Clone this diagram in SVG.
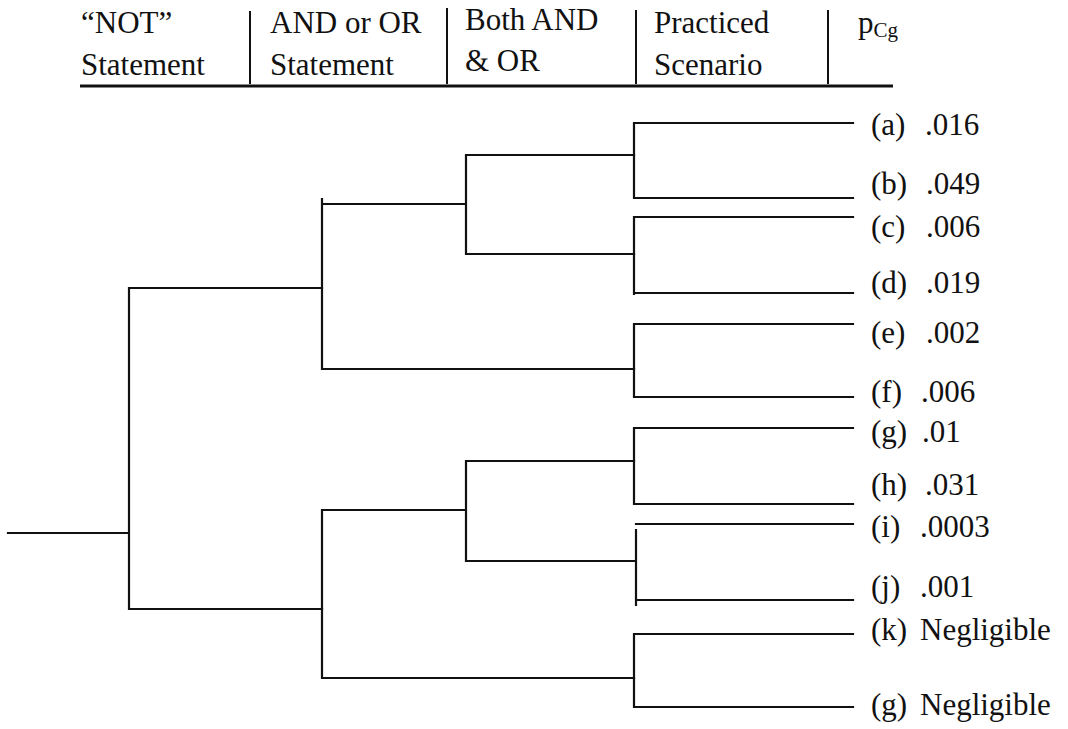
<svg xmlns="http://www.w3.org/2000/svg" width="1068" height="729" viewBox="0 0 1068 729" font-family="'Liberation Serif', 'Times New Roman', serif">
<style>
.h{font-size:31px}
.l{font-size:31px}
.sub{font-size:21px}
.c{stroke:#111;stroke-width:2.2;fill:none;stroke-linecap:square}
.sep{stroke:#111;stroke-width:2;fill:none}
</style>
<rect width="1068" height="729" fill="#fff"/>
<g id="header" font-family="Liberation Serif, serif" fill="#111">
<line x1="80" y1="86" x2="893" y2="86" stroke="#111" stroke-width="3.2"/>
<line class="sep" x1="250" y1="11" x2="250" y2="84"/>
<line class="sep" x1="447" y1="8" x2="447" y2="84"/>
<line class="sep" x1="636" y1="10" x2="636" y2="84"/>
<line class="sep" x1="828" y1="10" x2="828" y2="84"/>
<text class="h" x="81" y="33">“NOT”</text>
<text class="h" x="81" y="75">Statement</text>
<text class="h" x="270" y="33">AND or OR</text>
<text class="h" x="270" y="75">Statement</text>
<text class="h" x="465" y="30">Both AND</text>
<text class="h" x="465" y="71">&amp; OR</text>
<text class="h" x="654" y="33">Practiced</text>
<text class="h" x="654" y="75">Scenario</text>
<text class="h" x="858" y="33">p<tspan class="sub" dy="4">Cg</tspan></text>
</g>
<g id="connectors">
<path class="c" d="M8 533H129M129 288V609M129 288H322M129 609H322"/>
<path class="c" d="M322 199V369M322 204H466M466 155V254M466 155H634M466 254H634M322 369H634"/>
<path class="c" d="M634 123V198M634 123H853M634 198H853"/>
<path class="c" d="M634 217V294M634 217H853M634 293H853"/>
<path class="c" d="M634 324V397M634 324H853M634 397H853"/>
<path class="c" d="M322 510V678M322 510H466M466 461V561M466 461H634M466 561H634M322 678H634"/>
<path class="c" d="M634 428V504M634 428H853M634 504H853"/>
<path class="c" d="M636 530V605M636 524H853M636 600H853"/>
<path class="c" d="M634 634V707M634 634H853M634 707H853"/>
</g>
<g id="leaves" font-family="Liberation Serif, serif" fill="#111">
<g id="leaf-a"><text class="l" x="871" y="135">(a)</text><text class="l" x="925" y="135">.016</text></g>
<g id="leaf-b"><text class="l" x="871" y="194">(b)</text><text class="l" x="926" y="194">.049</text></g>
<g id="leaf-c"><text class="l" x="871" y="237">(c)</text><text class="l" x="926" y="237">.006</text></g>
<g id="leaf-d"><text class="l" x="871" y="293">(d)</text><text class="l" x="926" y="293">.019</text></g>
<g id="leaf-e"><text class="l" x="871" y="343">(e)</text><text class="l" x="926" y="343">.002</text></g>
<g id="leaf-f"><text class="l" x="871" y="402">(f)</text><text class="l" x="921" y="402">.006</text></g>
<g id="leaf-g"><text class="l" x="871" y="442">(g)</text><text class="l" x="922" y="442">.01</text></g>
<g id="leaf-h"><text class="l" x="871" y="495">(h)</text><text class="l" x="925" y="495">.031</text></g>
<g id="leaf-i"><text class="l" x="871" y="537">(i)</text><text class="l" x="920" y="537">.0003</text></g>
<g id="leaf-j"><text class="l" x="871" y="597">(j)</text><text class="l" x="920" y="597">.001</text></g>
<g id="leaf-k"><text class="l" x="871" y="640">(k)</text><text class="l" x="920" y="640">Negligible</text></g>
<g id="leaf-g2"><text class="l" x="871" y="715">(g)</text><text class="l" x="920" y="715">Negligible</text></g>
</g>
</svg>
